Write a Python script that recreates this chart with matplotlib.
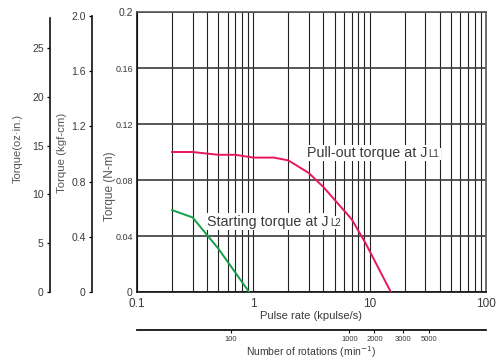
import matplotlib
matplotlib.use("Agg")
import matplotlib.pyplot as plt
from matplotlib.ticker import LogLocator, NullFormatter, FixedLocator

plt.rcParams['font.family'] = ['Liberation Sans', 'DejaVu Sans']

# ---- data ----
pullout_x = [0.2, 0.3, 0.5, 0.7, 1.0, 1.5, 2.0, 3.0, 4.0, 7.0, 9.2, 15.2]
pullout_y = [0.100, 0.100, 0.098, 0.098, 0.096, 0.096, 0.094, 0.085, 0.075, 0.052, 0.035, 0.0]
starting_x = [0.2, 0.3, 0.5, 0.92]
starting_y = [0.0585, 0.0533, 0.031, 0.0]

nm_ticks = [0, 0.04, 0.08, 0.12, 0.16, 0.2]
nm_labels = ['0', '0.04', '0.08', '0.12', '0.16', '0.2']
kgf_ticks = [0, 0.4, 0.8, 1.2, 1.6, 2.0]
kgf_labels = ['0', '0.4', '0.8', '1.2', '1.6', '2.0']
oz_ticks = [0, 5, 10, 15, 20, 25]
oz_labels = ['0', '5', '10', '15', '20', '25']
x_ticks = [0.1, 1, 10, 100]
x_labels = ['0.1', '1', '10', '100']
rot_tick_pos = [0.64, 6.7, 11.0, 19.5, 32.3]
rot_labels = ['100', '1000', '2000', '3000', '5000']

PINK = '#E8175D'
GREEN = '#12A04A'
TXT = '#3a3a3a'

W, H = 496, 360
fig = plt.figure(figsize=(W / 100, H / 100), dpi=100)
ax = fig.add_axes([137 / W, 68 / H, 349 / W, 280 / H])

ax.set_xscale('log')
ax.set_xlim(0.1, 100)
ax.set_ylim(0, 0.2)

# grid
ax.xaxis.set_minor_locator(LogLocator(base=10, subs=range(2, 10)))
ax.xaxis.set_minor_formatter(NullFormatter())
ax.set_xticks(x_ticks, labels=x_labels)
ax.set_yticks(nm_ticks, labels=nm_labels)
ax.grid(axis='x', which='both', color='#222222', lw=0.8)
ax.grid(axis='y', which='major', color='#3a3a3a', lw=1.2)
ax.set_axisbelow(True)
ax.tick_params(axis='both', which='both', length=0)
ax.tick_params(axis='x', pad=4, labelsize=8.5, labelcolor=TXT)
ax.tick_params(axis='y', pad=3, labelsize=6.5, labelcolor=TXT)
for lab in ax.get_yticklabels():
    if lab.get_text() in ('0.2', '0'):
        lab.set_fontsize(7.5)

for s in ['left', 'bottom']:
    ax.spines[s].set_color('#111111')
    ax.spines[s].set_linewidth(1.2)
for s in ['top', 'right']:
    ax.spines[s].set_color('#555555')
    ax.spines[s].set_linewidth(1.2)

# curves
ax.plot(pullout_x, pullout_y, color=PINK, lw=1.4, zorder=3)
ax.plot(starting_x, starting_y, color=GREEN, lw=1.4, zorder=3)

# labels on curves
def label(x, y, main, sub):
    t = ax.text(x, y, main, fontsize=10.3, color=TXT, va='center', ha='left', zorder=5,
                bbox=dict(facecolor='white', edgecolor='none', pad=1.0))
    ax.annotate(sub, xy=(1, 0), xycoords=t, xytext=(1.2, 0.7), textcoords='offset points',
                fontsize=7, color=TXT, va='bottom', ha='left', zorder=4,
                bbox=dict(facecolor='white', edgecolor='none', pad=1.0))

label(2.87, 0.0993, 'Pull-out torque at J', 'L1')
label(0.40, 0.0502, 'Starting torque at J', 'L2')

ax.set_xlabel('Pulse rate (kpulse/s)', fontsize=8, color=TXT, labelpad=1)

# secondary rotations axis
sec = ax.secondary_xaxis(-(330 - 292) / 280)
sec.set_xticks(rot_tick_pos, labels=rot_labels)
sec.xaxis.set_minor_locator(FixedLocator([]))
sec.tick_params(axis='x', which='major', length=2.5, width=0.8, pad=2,
                labelsize=5.5, labelcolor=TXT, color='#111111')
sec.spines['bottom'].set_linewidth(1.3)
sec.spines['bottom'].set_color('#111111')
sec.set_xlabel('Number of rotations (min$^{-1}$)', fontsize=7.5, color=TXT, labelpad=1)

# kgf-cm axis
ax2 = ax.twinx()
ax2.set_ylim(0, 2.03)
ax2.yaxis.set_ticks_position('left')
ax2.yaxis.set_label_position('left')
for s in ['top', 'right', 'bottom']:
    ax2.spines[s].set_visible(False)
ax2.spines['left'].set_visible(True)
ax2.spines['left'].set_position(('outward', 45 / 1.389))
ax2.spines['left'].set_bounds(0, 2.0)
ax2.spines['left'].set_linewidth(1.2)
ax2.spines['left'].set_color('#111111')
ax2.set_yticks(kgf_ticks, labels=kgf_labels)
ax2.tick_params(axis='y', length=2.5, width=0.9, pad=2, labelsize=7.5, labelcolor=TXT)

# oz-in axis
ax3 = ax.twinx()
ax3.set_ylim(0, 28.7)
ax3.yaxis.set_ticks_position('left')
ax3.yaxis.set_label_position('left')
for s in ['top', 'right', 'bottom']:
    ax3.spines[s].set_visible(False)
ax3.spines['left'].set_visible(True)
ax3.spines['left'].set_position(('outward', 87 / 1.389))
ax3.spines['left'].set_bounds(0, 28.1)
ax3.spines['left'].set_linewidth(1.2)
ax3.spines['left'].set_color('#111111')
ax3.set_yticks(oz_ticks, labels=oz_labels)
ax3.tick_params(axis='y', length=2.5, width=0.9, pad=2, labelsize=7.5, labelcolor=TXT)

# axis titles
fig.text(18 / W, 1 - 148 / H, 'Torque(oz·in.)', rotation=90, ha='center', va='center',
         fontsize=8, color='#555555')
fig.text(62 / W, 1 - 153 / H, 'Torque (kgf-cm)', rotation=90, ha='center', va='center',
         fontsize=8.2, color='#555555')
fig.text(110 / W, 1 - 186 / H, 'Torque (N-m)', rotation=90, ha='center', va='center',
         fontsize=8.5, color='#555555')

fig.savefig('out.png', dpi=100)
